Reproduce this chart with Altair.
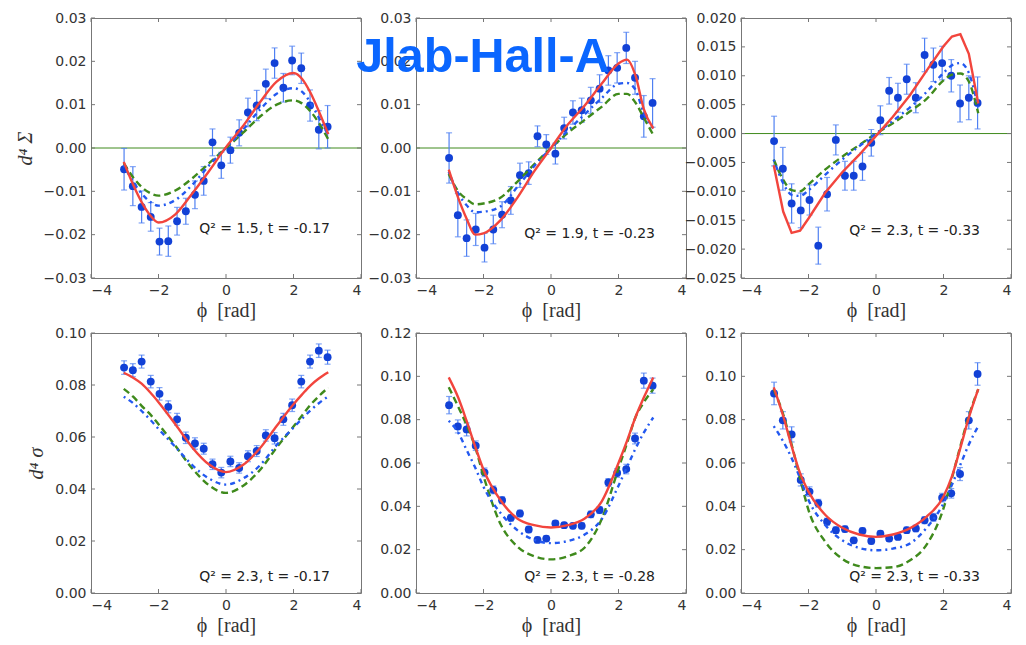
import altair as alt
import pandas as pd

# ---------------- data ----------------
PHI = [-3.02, -2.76, -2.50, -2.23, -1.97, -1.71, -1.45, -1.19, -0.92, -0.66, -0.40, -0.14,
       0.13, 0.39, 0.65, 0.91, 1.18, 1.44, 1.70, 1.96, 2.23, 2.49, 2.75, 3.01]
CURVE_PHI = [-3.03, -2.75, -2.5, -2.25, -2.0, -1.5, -1.0, -0.5, 0.0, 0.5, 1.0, 1.5,
             2.0, 2.25, 2.5, 2.75, 3.03]

LABELS = ["Q² = 1.5, t = -0.17", "Q² = 1.9, t = -0.23", "Q² = 2.3, t = -0.33",
          "Q² = 2.3, t = -0.17", "Q² = 2.3, t = -0.28", "Q² = 2.3, t = -0.33"]

# data points (value, error)
P1_Y = [-0.0049, -0.0088, -0.0136, -0.0159, -0.0216, -0.0215, -0.0169, -0.0146, -0.0108, -0.0076,
        0.0013, -0.0040, -0.0005, 0.0035, 0.0082, 0.0098, 0.0148, 0.0196, 0.0139, 0.0202,
        0.0184, 0.0098, 0.0042, 0.0049]
P1_E = [0.0048, 0.0045, 0.0037, 0.0033, 0.0031, 0.0035, 0.0032, 0.0030, 0.0032, 0.0033,
        0.0031, 0.0030, 0.0030, 0.0030, 0.0033, 0.0035, 0.0034, 0.0035, 0.0033, 0.0033,
        0.0035, 0.0036, 0.0044, 0.0049]
P2_Y = [-0.0023, -0.0155, -0.0208, -0.0188, -0.0230, -0.0188, -0.0154, -0.0121, -0.0063, -0.0058,
        0.0027, 0.0008, -0.0013, 0.0046, 0.0082, 0.0087, 0.0110, 0.0137, 0.0179, 0.0185,
        0.0231, 0.0162, 0.0073, 0.0104]
P2_E = [0.0058, 0.0050, 0.0042, 0.0037, 0.0033, 0.0033, 0.0030, 0.0032, 0.0028, 0.0026,
        0.0024, 0.0023, 0.0024, 0.0025, 0.0027, 0.0028, 0.0030, 0.0032, 0.0034, 0.0035,
        0.0036, 0.0038, 0.0048, 0.0056]
P3_Y = [-0.0013, -0.0061, -0.0121, -0.0133, -0.0115, -0.0194, -0.0105, -0.0011, -0.0073, -0.0073,
        -0.0057, -0.0016, 0.0023, 0.0074, 0.0062, 0.0094, 0.0062, 0.0136, 0.0119, 0.0122,
        0.0100, 0.0052, 0.0062, 0.0053]
P3_E = [0.0043, 0.0037, 0.0034, 0.0030, 0.0026, 0.0032, 0.0029, 0.0026, 0.0025, 0.0025,
        0.0024, 0.0023, 0.0025, 0.0023, 0.0025, 0.0026, 0.0026, 0.0029, 0.0029, 0.0029,
        0.0028, 0.0032, 0.0038, 0.0045]
P4_Y = [0.0867, 0.0857, 0.0890, 0.0813, 0.0766, 0.0716, 0.0668, 0.0597, 0.0575, 0.0555,
        0.0495, 0.0463, 0.0506, 0.0481, 0.0526, 0.0546, 0.0606, 0.0595, 0.0668, 0.0722,
        0.0813, 0.0890, 0.0932, 0.0907]
P4_E = [0.0026, 0.0025, 0.0025, 0.0024, 0.0024, 0.0023, 0.0023, 0.0022, 0.0022, 0.0021,
        0.0020, 0.0020, 0.0020, 0.0020, 0.0021, 0.0021, 0.0022, 0.0022, 0.0023, 0.0024,
        0.0024, 0.0025, 0.0026, 0.0027]
P5_Y = [0.0867, 0.0769, 0.0755, 0.0680, 0.0557, 0.0476, 0.0428, 0.0347, 0.0367, 0.0293,
        0.0245, 0.0251, 0.0321, 0.0313, 0.0310, 0.0310, 0.0363, 0.0383, 0.0510, 0.0554,
        0.0572, 0.0713, 0.0980, 0.0957]
P5_E = [0.0040, 0.0030, 0.0030, 0.0022, 0.0020, 0.0018, 0.0016, 0.0015, 0.0015, 0.0014,
        0.0013, 0.0013, 0.0013, 0.0013, 0.0013, 0.0014, 0.0015, 0.0016, 0.0018, 0.0020,
        0.0022, 0.0025, 0.0035, 0.0035]
P6_Y = [0.0921, 0.0797, 0.0732, 0.0522, 0.0468, 0.0414, 0.0329, 0.0290, 0.0295, 0.0243,
        0.0287, 0.0240, 0.0274, 0.0251, 0.0259, 0.0290, 0.0298, 0.0336, 0.0349, 0.0440,
        0.0460, 0.0549, 0.0797, 0.1011]
P6_E = [0.0052, 0.0040, 0.0035, 0.0028, 0.0022, 0.0018, 0.0016, 0.0015, 0.0014, 0.0013,
        0.0013, 0.0013, 0.0013, 0.0013, 0.0013, 0.0014, 0.0015, 0.0016, 0.0018, 0.0020,
        0.0022, 0.0030, 0.0040, 0.0052]

# model curves at CURVE_PHI : red (solid), blue (dotted), green (dashed)
P1_RED = [-0.0032, -0.0085, -0.0125, -0.0155, -0.0172, -0.0153, -0.0105, -0.0053, 0.0002,
          0.0050, 0.0105, 0.0153, 0.0173, 0.0160, 0.0128, 0.0085, 0.0032]
P1_BLUE = [-0.0040, -0.0078, -0.0105, -0.0124, -0.0133, -0.0120, -0.0085, -0.0040, 0.0000,
           0.0042, 0.0088, 0.0125, 0.0138, 0.0130, 0.0105, 0.0070, 0.0030]
P1_GREEN = [-0.0035, -0.0068, -0.0090, -0.0104, -0.0110, -0.0098, -0.0070, -0.0035, 0.0000,
            0.0035, 0.0072, 0.0100, 0.0110, 0.0103, 0.0085, 0.0058, 0.0020]
P2_RED = [-0.0050, -0.0115, -0.0163, -0.0200, -0.0197, -0.0167, -0.0115, -0.0054, 0.0000,
          0.0054, 0.0098, 0.0148, 0.0195, 0.0204, 0.0168, 0.0090, 0.0045]
P2_BLUE = [-0.0055, -0.0105, -0.0132, -0.0148, -0.0147, -0.0135, -0.0090, -0.0042, 0.0000,
           0.0040, 0.0078, 0.0115, 0.0148, 0.0150, 0.0135, 0.0080, 0.0045]
P2_GREEN = [-0.0060, -0.0100, -0.0118, -0.0130, -0.0128, -0.0115, -0.0078, -0.0038, 0.0000,
            0.0035, 0.0065, 0.0095, 0.0125, 0.0125, 0.0105, 0.0070, 0.0030]
P3_RED = [-0.0055, -0.0135, -0.0172, -0.0168, -0.0147, -0.0102, -0.0067, -0.0037, -0.0004,
          0.0029, 0.0066, 0.0109, 0.0151, 0.0168, 0.0172, 0.0138, 0.0052]
P3_BLUE = [-0.0045, -0.0086, -0.0106, -0.0108, -0.0098, -0.0071, -0.0045, -0.0022, 0.0000,
           0.0022, 0.0045, 0.0072, 0.0105, 0.0118, 0.0122, 0.0105, 0.0045]
P3_GREEN = [-0.0045, -0.0080, -0.0098, -0.0100, -0.0088, -0.0062, -0.0040, -0.0020, 0.0000,
            0.0018, 0.0038, 0.0060, 0.0092, 0.0102, 0.0104, 0.0090, 0.0035]
P4_RED = [0.0847, 0.0828, 0.0805, 0.0772, 0.0734, 0.0649, 0.0560, 0.0494, 0.0465, 0.0492,
          0.0556, 0.0642, 0.0726, 0.0763, 0.0798, 0.0825, 0.0849]
P4_BLUE = [0.0755, 0.0730, 0.0700, 0.0667, 0.0631, 0.0562, 0.0492, 0.0440, 0.0417, 0.0440,
           0.0490, 0.0569, 0.0636, 0.0670, 0.0702, 0.0730, 0.0756]
P4_GREEN = [0.0785, 0.0755, 0.0720, 0.0688, 0.0649, 0.0566, 0.0479, 0.0414, 0.0385, 0.0412,
            0.0472, 0.0559, 0.0640, 0.0682, 0.0723, 0.0757, 0.0790]
P5_RED = [0.0995, 0.0902, 0.0794, 0.0678, 0.0569, 0.0429, 0.0344, 0.0313, 0.0302, 0.0313,
          0.0344, 0.0422, 0.0600, 0.0701, 0.0810, 0.0902, 0.0995]
P5_BLUE = [0.0795, 0.0740, 0.0660, 0.0580, 0.0490, 0.0370, 0.0290, 0.0245, 0.0230, 0.0240,
           0.0270, 0.0340, 0.0495, 0.0580, 0.0665, 0.0740, 0.0810]
P5_GREEN = [0.0950, 0.0860, 0.0775, 0.0675, 0.0540, 0.0320, 0.0215, 0.0170, 0.0155, 0.0170,
            0.0210, 0.0340, 0.0575, 0.0690, 0.0810, 0.0880, 0.0940]
P6_RED = [0.0949, 0.0817, 0.0678, 0.0553, 0.0468, 0.0360, 0.0301, 0.0270, 0.0259, 0.0270,
          0.0298, 0.0352, 0.0445, 0.0538, 0.0670, 0.0809, 0.0941]
P6_BLUE = [0.0770, 0.0700, 0.0623, 0.0530, 0.0429, 0.0313, 0.0243, 0.0208, 0.0197, 0.0205,
           0.0228, 0.0301, 0.0414, 0.0499, 0.0592, 0.0685, 0.0770]
P6_GREEN = [0.0940, 0.0825, 0.0685, 0.0530, 0.0383, 0.0236, 0.0158, 0.0124, 0.0115, 0.0119,
            0.0150, 0.0223, 0.0391, 0.0530, 0.0678, 0.0817, 0.0941]

X_TICKS = [-4, -2, 0, 2, 4]
YT_SIG = [-0.03, -0.02, -0.01, 0.0, 0.01, 0.02, 0.03]
YT_SIG3 = [-0.025, -0.02, -0.015, -0.01, -0.005, 0.0, 0.005, 0.01, 0.015, 0.02]
YT_S4 = [0.0, 0.02, 0.04, 0.06, 0.08, 0.10]
YT_S56 = [0.0, 0.02, 0.04, 0.06, 0.08, 0.10, 0.12]

W, H = 270, 260
TICK_LEN = 4
FRAME = "#777777"
PT_COLOR = "#1241d6"
ERR_COLOR = "#4f80f2"
RED = "#f2453d"
BLUE = "#2359f0"
GREEN = "#3f8a1c"
SERIF = "Liberation Serif"
SANS = "DejaVu Sans"


def panel(ys, es, red, blue, green, ydom, yticks, yfmt, ytitle, label, zero_line,
          label_y, add_title=False, red_interp="monotone"):
    xscale = alt.Scale(domain=[-4, 4], nice=False)
    yscale = alt.Scale(domain=ydom, nice=False, zero=False)
    xaxis = alt.Axis(values=X_TICKS, format="d", title="ϕ\u00a0\u00a0[rad]")
    yaxis = alt.Axis(values=yticks, format=yfmt, title=ytitle)

    def X(f):
        return alt.X(f, scale=xscale, axis=xaxis)

    def Y(f):
        return alt.Y(f, scale=yscale, axis=yaxis)

    pts = pd.DataFrame({"phi": PHI, "y": ys, "e": es})
    pts["lo"] = pts["y"] - pts["e"]
    pts["hi"] = pts["y"] + pts["e"]
    base = alt.Chart(pts)

    layers = []
    if zero_line:
        layers.append(alt.Chart(pd.DataFrame({"y": [0.0]})).mark_rule(
            color=GREEN, strokeWidth=1).encode(y=Y("y:Q")))
    layers.append(base.mark_rule(color=ERR_COLOR, strokeWidth=1.2).encode(
        x=X("phi:Q"), y=Y("lo:Q"), y2="hi:Q"))
    layers.append(base.mark_tick(color=ERR_COLOR, orient="horizontal", size=6, thickness=1.2).encode(
        x=X("phi:Q"), y=Y("lo:Q")))
    layers.append(base.mark_tick(color=ERR_COLOR, orient="horizontal", size=6, thickness=1.2).encode(
        x=X("phi:Q"), y=Y("hi:Q")))
    layers.append(base.mark_circle(color=PT_COLOR, size=62, opacity=1).encode(
        x=X("phi:Q"), y=Y("y:Q")))

    for vals, col, dash, interp in [(green, GREEN, [7, 4], "monotone"),
                                    (blue, BLUE, [2, 4, 5, 4], "monotone"),
                                    (red, RED, None, red_interp)]:
        cdf = pd.DataFrame({"phi": CURVE_PHI, "y": vals})
        kw = dict(color=col, strokeWidth=2.4, interpolate=interp)
        if dash:
            kw["strokeDash"] = dash
        layers.append(alt.Chart(cdf).mark_line(**kw).encode(x=X("phi:Q"), y=Y("y:Q")))

    # inward ticks on all four sides
    xt = alt.Chart(pd.DataFrame({"phi": X_TICKS}))
    layers.append(xt.mark_rule(color=FRAME).encode(x=X("phi:Q"), y=alt.value(H), y2=alt.value(H - TICK_LEN)))
    layers.append(xt.mark_rule(color=FRAME).encode(x=X("phi:Q"), y=alt.value(0), y2=alt.value(TICK_LEN)))
    yt = alt.Chart(pd.DataFrame({"y": yticks}))
    layers.append(yt.mark_rule(color=FRAME).encode(y=Y("y:Q"), x=alt.value(0), x2=alt.value(TICK_LEN)))
    layers.append(yt.mark_rule(color=FRAME).encode(y=Y("y:Q"), x=alt.value(W - TICK_LEN), x2=alt.value(W)))

    layers.append(alt.Chart(pd.DataFrame({"t": [label]})).mark_text(
        font=SANS, fontSize=14, color="#222222", align="right", baseline="middle").encode(
        text="t:N", x=alt.value(239), y=alt.value(label_y)))

    if add_title:
        layers.append(alt.Chart(pd.DataFrame({"t": ["Jlab-Hall-A"]})).mark_text(
            font="Liberation Sans", fontSize=48.5, fontWeight="bold", color="#0a66ff",
            align="center", baseline="alphabetic").encode(
            text="t:N", x=alt.value(67), y=alt.value(54)))

    return alt.layer(*layers).properties(width=W, height=H)


p1 = panel(P1_Y, P1_E, P1_RED, P1_BLUE, P1_GREEN, [-0.03, 0.03], YT_SIG, ".2f", "d⁴ Σ", LABELS[0], True, 211)
p2 = panel(P2_Y, P2_E, P2_RED, P2_BLUE, P2_GREEN, [-0.03, 0.03], YT_SIG, ".2f", "", LABELS[1], True, 216, add_title=True)
p3 = panel(P3_Y, P3_E, P3_RED, P3_BLUE, P3_GREEN, [-0.025, 0.02], YT_SIG3, ".3f", "", LABELS[2], True, 213,
           red_interp="linear")
p4 = panel(P4_Y, P4_E, P4_RED, P4_BLUE, P4_GREEN, [0.0, 0.10], YT_S4, ".2f", "d⁴ σ", LABELS[3], False, 244)
p5 = panel(P5_Y, P5_E, P5_RED, P5_BLUE, P5_GREEN, [0.0, 0.12], YT_S56, ".2f", "", LABELS[4], False, 244)
p6 = panel(P6_Y, P6_E, P6_RED, P6_BLUE, P6_GREEN, [0.0, 0.12], YT_S56, ".2f", "", LABELS[5], False, 244)

chart = alt.concat(p1, p2, p3, p4, p5, p6, columns=3, spacing=55, bounds="flush").properties(
    padding={"left": 6, "top": 2, "right": 4, "bottom": 4},
    background="white",
).configure_view(
    stroke=FRAME, strokeWidth=1
).configure_axis(
    domain=False, ticks=False, grid=False,
    labelFont=SANS, labelFontSize=14, labelColor="#333333", labelPadding=5,
    titleFont=SERIF, titleFontSize=20, titleFontWeight="normal", titleColor="#333333",
).configure_axisY(
    titleFontStyle="italic", titlePadding=8
).configure_axisX(
    titlePadding=3
).configure_concat(spacing=55)

chart.save("out.html", embed_options={"renderer": "svg", "actions": False})
